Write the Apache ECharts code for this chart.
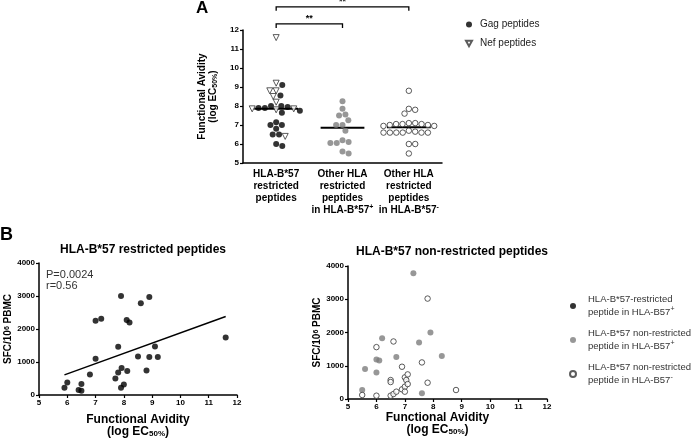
<!DOCTYPE html>
<html><head><meta charset="utf-8">
<script src="https://cdn.jsdelivr.net/npm/echarts@6/dist/echarts.min.js"></script>
<style>html,body{margin:0;padding:0;background:#fff}#c{width:691px;height:439px}</style>
</head><body><div id="c"></div>
<script>
// ---------- Panel A data ----------
const groupLabels = [
  'HLA-B*57\nrestricted\npeptides',
  'Other HLA\nrestricted\npeptides\nin HLA-B*57{sup|+}',
  'Other HLA\nrestricted\npeptides\nin HLA-B*57{sup|-}'
];
const gagB57 = [9.1, 8.55, 7.95, 8.0, 8.0, 7.9, 7.9, 7.75, 7.65, 7.15, 7.0, 7.0, 6.8, 6.5, 6.5, 5.9, 6.0];
const nefB57 = [11.6, 9.2, 8.8, 8.8, 8.5, 8.2, 7.85, 7.85, 7.8, 6.4];
const otherInB57pos = [8.25, 7.85, 7.55, 7.5, 7.25, 7.0, 7.0, 6.7, 6.2, 6.1, 6.05, 6.05, 5.6, 5.5];
const otherInB57neg = [8.8, 7.85, 7.6, 7.8, 7.1, 7.05, 7.05, 7.0, 6.95, 6.95, 7.0, 7.05, 7.1,
                       6.7, 6.6, 6.6, 6.6, 6.6, 6.6, 6.6, 6.65, 6.0, 6.0, 5.5];
const groupMedians = [7.85, 6.85, 6.88];
const sigPairs = [[0, 1], [0, 2]];
const sigLabels = ['**', '**'];

// ---------- Panel B data ----------
const avidB57 = [5.9, 6.0, 6.4, 6.5, 6.5, 6.8, 7.0, 7.0, 7.2, 7.7, 7.8, 7.8, 7.9, 7.92, 7.9, 8.0, 8.1, 8.12, 8.2, 8.5, 8.6, 8.8, 8.9, 8.9, 9.1, 9.2, 11.6];
const sfcB57 = [220, 380, 150, 130, 330, 620, 1100, 2250, 2310, 500, 680, 1460, 3000, 820, 220, 320, 2270, 730, 2200, 1170, 2780, 740, 1150, 2970, 1470, 1150, 1740];
const fitX = [5.9, 11.6];
const fitY = [610, 2380];
const avidNonResPos = [5.5, 5.6, 6.0, 6.0, 6.1, 6.2, 6.7, 7.3, 7.5, 7.6, 7.9, 8.3];
const sfcNonResPos = [270, 900, 800, 1190, 1160, 1830, 1260, 3780, 1700, 170, 2000, 1290];
const avidNonResNeg = [5.5, 6.0, 6.0, 6.6, 6.5, 6.6, 6.7, 6.5, 6.5, 6.9, 6.9, 7.0, 7.0, 7.0, 7.05, 7.1, 7.1, 7.6, 7.8, 7.8, 8.8];
const sfcNonResNeg = [120, 100, 1560, 1730, 100, 150, 220, 570, 510, 970, 290, 370, 220, 650, 570, 740, 450, 1100, 3020, 490, 270];
const statText = 'P=0.0024\nr=0.56';

// ---------- layout ----------
const FONT = '"Liberation Sans", Arial, sans-serif';
const gridA = {left: 243, top: 30, width: 199, height: 133};
const gridBL = {left: 39, top: 263, width: 198, height: 135};
const gridBR = {left: 348, top: 266, width: 199, height: 133};
const yMinA = 5, yMaxA = 12;
const pxPerYA = gridA.height / (yMaxA - yMinA);
const pxPerXA = gridA.width / groupLabels.length;
const SW = 6.4; // swarm spacing (px)
const INV_TRI = 'path://M0,0 L10,0 L5,9 Z';

function swarm(values) {
  const idx = values.map((v, i) => i).sort((a, b) => values[b] - values[a]);
  const placed = [];
  const off = new Array(values.length);
  for (const i of idx) {
    const y = values[i] * pxPerYA;
    const near = placed.filter(p => Math.abs(p.y - y) < SW);
    const cands = [0];
    near.forEach(p => { const dx = Math.sqrt(SW * SW - (p.y - y) ** 2); cands.push(p.x + dx, p.x - dx); });
    cands.sort((a, b) => Math.abs(a) - Math.abs(b));
    let best = 0;
    for (const c of cands) {
      if (near.every(p => (p.x - c) ** 2 + (p.y - y) ** 2 >= SW * SW - 1e-6)) { best = c; break; }
    }
    placed.push({x: best, y});
    off[i] = best;
  }
  return off;
}
function toPts(vals, offs, center) { return vals.map((v, i) => [center + offs[i] / pxPerXA, v]); }

const g1 = gagB57.concat(nefB57);
const off1 = swarm(g1);
const gagData = toPts(gagB57, off1.slice(0, gagB57.length), 0.5);
const nefData = toPts(nefB57, off1.slice(gagB57.length), 0.5);
const g2Data = toPts(otherInB57pos, swarm(otherInB57pos), 1.5);
const g3Data = toPts(otherInB57neg, swarm(otherInB57neg), 2.5);

const tickLabel = {fontFamily: FONT, fontSize: 8, fontWeight: 'bold', color: '#000', formatter: v => String(v)};
const axLine = {lineStyle: {color: '#000', width: 1.5}};
const axTick = {show: true, length: 3, lineStyle: {color: '#000', width: 1.2}};
const avidName = 'Functional Avidity\n(log EC{sub|50%})';

const chart = echarts.init(document.getElementById('c'));
chart.setOption({
  animation: false,
  backgroundColor: '#fff',
  textStyle: {fontFamily: FONT},
  grid: [
    Object.assign({containLabel: false}, gridA),
    Object.assign({containLabel: false}, gridBL),
    Object.assign({containLabel: false}, gridBR)
  ],
  title: [
    {text: 'HLA-B*57 restricted peptides', left: gridBL.left + gridBL.width / 2, top: 239, textAlign: 'center',
     textStyle: {fontFamily: FONT, fontSize: 12, fontWeight: 'bold', color: '#000'}},
    {text: 'HLA-B*57 non-restricted peptides', left: 447, top: 241, textAlign: 'center',
     textStyle: {fontFamily: FONT, fontSize: 12, fontWeight: 'bold', color: '#000'}}
  ],
  legend: [
    {data: [{name: 'Gag peptides', icon: 'circle'}, {name: 'Nef peptides', icon: INV_TRI}],
     orient: 'vertical', left: 465, top: 19, itemGap: 8, padding: 0,
     itemWidth: 6, itemHeight: 6, selectedMode: false,
     textStyle: {fontFamily: FONT, fontSize: 10, color: '#222', lineHeight: 11, padding: [0, 0, 0, 3]}},
    {data: ['b57r', 'nrpos', 'nrneg'], orient: 'vertical', left: 569, top: 293, itemGap: 8, padding: 0,
     itemWidth: 6, itemHeight: 6, selectedMode: false,
     formatter: n => ({b57r: 'HLA-B*57-restricted\npeptide in HLA-B57{sup|+}',
                       nrpos: 'HLA-B*57 non-restricted\npeptide in HLA-B57{sup|+}',
                       nrneg: 'HLA-B*57 non-restricted\npeptide in HLA-B57{sup|-}'})[n],
     textStyle: {fontFamily: FONT, fontSize: 9.5, color: '#333', lineHeight: 13, padding: [0, 0, 0, 7],
       rich: {sup: {fontFamily: FONT, fontSize: 7, color: '#333', verticalAlign: 'top', lineHeight: 13}}}}
  ],
  xAxis: [
    {type: 'category', gridIndex: 0, data: groupLabels, boundaryGap: true,
     axisLine: axLine, axisTick: {show: false},
     axisLabel: {interval: 0, margin: 5, fontFamily: FONT, fontSize: 10, fontWeight: 'bold', color: '#000', lineHeight: 12,
       rich: {sup: {fontFamily: FONT, fontSize: 7, fontWeight: 'bold', color: '#000', verticalAlign: 'top', lineHeight: 12}}}},
    {type: 'value', gridIndex: 0, min: 0, max: groupLabels.length, show: false},
    {type: 'value', gridIndex: 1, min: 5, max: 12, interval: 1, axisLine: axLine, axisTick: axTick,
     splitLine: {show: false}, axisLabel: Object.assign({margin: 4}, tickLabel),
     name: avidName, nameLocation: 'middle', nameGap: 19,
     nameTextStyle: {fontFamily: FONT, fontSize: 12, fontWeight: 'bold', color: '#000', lineHeight: 12,
       rich: {sub: {fontFamily: FONT, fontSize: 8, fontWeight: 'bold', verticalAlign: 'bottom', lineHeight: 12}}}},
    {type: 'value', gridIndex: 2, min: 5, max: 12, interval: 1, axisLine: axLine, axisTick: axTick,
     splitLine: {show: false}, axisLabel: Object.assign({margin: 4}, tickLabel),
     name: avidName, nameLocation: 'middle', nameGap: 8,
     nameTextStyle: {fontFamily: FONT, fontSize: 12, fontWeight: 'bold', color: '#000', lineHeight: 12, padding: [0, 20, 0, 0],
       rich: {sub: {fontFamily: FONT, fontSize: 8, fontWeight: 'bold', verticalAlign: 'bottom', lineHeight: 12}}}}
  ],
  yAxis: [
    {type: 'value', gridIndex: 0, min: yMinA, max: yMaxA, interval: 1, axisLine: Object.assign({show: true}, axLine),
     axisTick: axTick, splitLine: {show: false}, axisLabel: Object.assign({margin: 4}, tickLabel),
     name: avidName, nameLocation: 'middle', nameGap: 24, nameRotate: 90,
     nameTextStyle: {fontFamily: FONT, fontSize: 10, fontWeight: 'bold', color: '#000', lineHeight: 11,
       rich: {sub: {fontFamily: FONT, fontSize: 7, fontWeight: 'bold', verticalAlign: 'bottom', lineHeight: 11}}}},
    {type: 'value', gridIndex: 1, min: 0, max: 4000, interval: 1000, axisLine: Object.assign({show: true}, axLine),
     axisTick: axTick, splitLine: {show: false}, axisLabel: Object.assign({margin: 4}, tickLabel),
     name: 'SFC/10{sup|6} PBMC', nameLocation: 'middle', nameGap: 24, nameRotate: 90,
     nameTextStyle: {fontFamily: FONT, fontSize: 10, fontWeight: 'bold', color: '#000',
       rich: {sup: {fontFamily: FONT, fontSize: 7, fontWeight: 'bold', verticalAlign: 'top'}}}},
    {type: 'value', gridIndex: 2, min: 0, max: 4000, interval: 1000, axisLine: Object.assign({show: true}, axLine),
     axisTick: axTick, splitLine: {show: false}, axisLabel: Object.assign({margin: 4}, tickLabel),
     name: 'SFC/10{sup|6} PBMC', nameLocation: 'middle', nameGap: 24, nameRotate: 90,
     nameTextStyle: {fontFamily: FONT, fontSize: 10, fontWeight: 'bold', color: '#000',
       rich: {sup: {fontFamily: FONT, fontSize: 7, fontWeight: 'bold', verticalAlign: 'top'}}}}
  ],
  series: [
    {name: 'Gag peptides', type: 'scatter', xAxisIndex: 1, yAxisIndex: 0, data: gagData,
     symbol: 'circle', symbolSize: 6, itemStyle: {color: '#000'}},
    {name: 'Nef peptides', type: 'scatter', xAxisIndex: 1, yAxisIndex: 0, data: nefData,
     symbol: INV_TRI, symbolSize: [6, 6],
     itemStyle: {color: '#fff', borderColor: '#333', borderWidth: 1}},
    {name: 'otherPos', type: 'scatter', xAxisIndex: 1, yAxisIndex: 0, data: g2Data,
     symbol: 'circle', symbolSize: 6, itemStyle: {color: '#7d7d7d'}},
    {name: 'otherNeg', type: 'scatter', xAxisIndex: 1, yAxisIndex: 0, data: g3Data,
     symbol: 'circle', symbolSize: 5.5, itemStyle: {color: '#fff', borderColor: '#333', borderWidth: 1}},
    {name: 'medians', type: 'custom', xAxisIndex: 1, yAxisIndex: 0, clip: false,
     data: groupMedians.map((m, i) => [i + 0.5, m]),
     renderItem: (params, api) => {
       const a = api.coord([api.value(0) - 0.33, api.value(1)]);
       const b = api.coord([api.value(0) + 0.33, api.value(1)]);
       return {type: 'line', shape: {x1: a[0], y1: a[1], x2: b[0], y2: b[1]}, style: {stroke: '#000', lineWidth: 2}};
     }},
    {name: 'sig', type: 'custom', xAxisIndex: 1, yAxisIndex: 0, clip: false,
     data: sigPairs.map((p, k) => [p[0] + 0.5, p[1] + 0.5, yMaxA + 0.32 + k * 0.9]),
     encode: {x: [0, 1], y: 2},
     renderItem: (params, api) => {
       const a = api.coord([api.value(0), api.value(2)]);
       const b = api.coord([api.value(1), api.value(2)]);
       return {type: 'group', children: [
         {type: 'polyline', shape: {points: [[a[0], a[1] + 4], [a[0], a[1]], [b[0], b[1]], [b[0], b[1] + 4]]},
          style: {stroke: '#000', lineWidth: 1.3, fill: null}},
         {type: 'text', x: (a[0] + b[0]) / 2, y: a[1] - 1,
          style: {text: sigLabels[params.dataIndex], fontFamily: FONT, fontSize: 9, fontWeight: 'bold',
                  fill: '#000', align: 'center', verticalAlign: 'bottom'}}
       ]};
     }},
    {name: 'b57r', type: 'scatter', xAxisIndex: 2, yAxisIndex: 1, data: avidB57.map((x, i) => [x, sfcB57[i]]),
     symbol: 'circle', symbolSize: 6, itemStyle: {color: '#000'}},
    {name: 'fit', type: 'line', xAxisIndex: 2, yAxisIndex: 1, data: fitX.map((x, i) => [x, fitY[i]]),
     symbol: 'none', lineStyle: {color: '#000', width: 1.5}},
    {name: 'nrpos', type: 'scatter', xAxisIndex: 3, yAxisIndex: 2, data: avidNonResPos.map((x, i) => [x, sfcNonResPos[i]]),
     symbol: 'circle', symbolSize: 6, itemStyle: {color: '#7d7d7d'}},
    {name: 'nrneg', type: 'scatter', xAxisIndex: 3, yAxisIndex: 2, data: avidNonResNeg.map((x, i) => [x, sfcNonResNeg[i]]),
     symbol: 'circle', symbolSize: 5.5, itemStyle: {color: '#fff', borderColor: '#333', borderWidth: 1}}
  ],
  graphic: [
    {type: 'text', left: 196, top: 0, style: {text: 'A', fontFamily: FONT, fontSize: 17, fontWeight: 'bold', fill: '#000'}},
    {type: 'text', left: 0, top: 226, style: {text: 'B', fontFamily: FONT, fontSize: 18, fontWeight: 'bold', fill: '#000'}},
    {type: 'text', left: 46, top: 269, style: {text: statText, fontFamily: FONT, fontSize: 11, lineHeight: 11, fill: '#333'}}
  ]
});
</script></body></html>
